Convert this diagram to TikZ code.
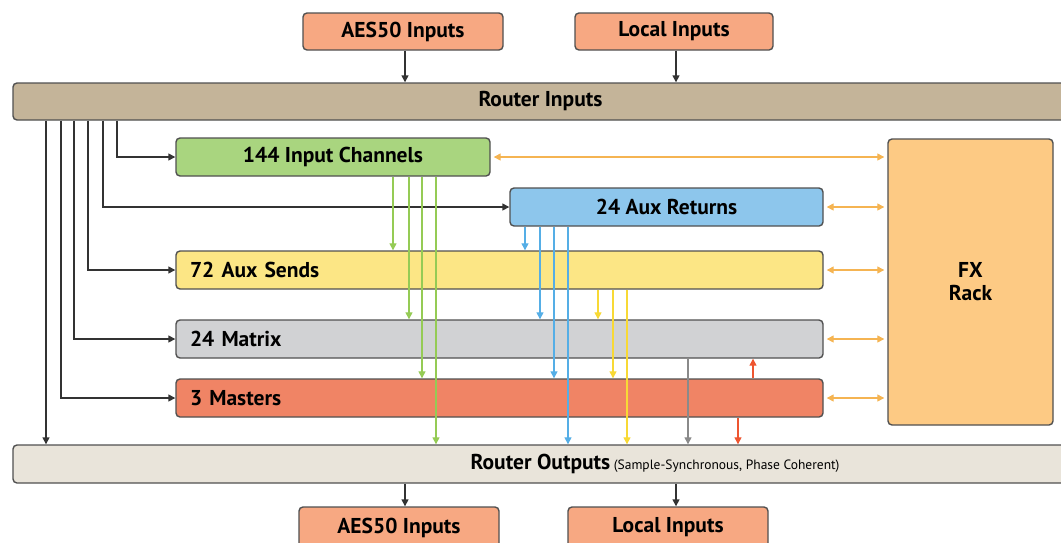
\documentclass[tikz,border=0pt]{standalone}
\usepackage{fontspec}
\setmainfont{PT Sans}
\usetikzlibrary{arrows.meta}
\definecolor{ioC}{HTML}{F7A882}
\definecolor{riC}{HTML}{C4B499}
\definecolor{roC}{HTML}{E9E4DA}
\definecolor{icC}{HTML}{A9D57F}
\definecolor{arC}{HTML}{8DC6EC}
\definecolor{asC}{HTML}{FCE685}
\definecolor{mxC}{HTML}{D1D2D4}
\definecolor{msC}{HTML}{F08465}
\definecolor{fxC}{HTML}{FDCA84}
\definecolor{bordC}{HTML}{505050}
\definecolor{oArr}{HTML}{F5B452}
\definecolor{gArr}{HTML}{95CB55}
\definecolor{bArr}{HTML}{55AEE6}
\definecolor{yArr}{HTML}{F8D935}
\definecolor{kArr}{HTML}{8A8A8A}
\definecolor{rArr}{HTML}{EE5530}
\begin{document}
\begin{tikzpicture}[x=1pt,y=-1pt,
  box/.style={draw=bordC, line width=1.4pt, rounded corners=4pt, inner sep=0pt,
    font=\fontsize{21.5}{24}\selectfont\bfseries, text=black},
  lbox/.style={box, align=left, inner xsep=14pt, text width=619pt},
  karr/.style={draw=black!80, line width=1.4pt, -{Triangle[length=7pt,width=7pt]}},
  carr/.style={line width=1.3pt, -{Triangle[length=7pt,width=7pt]}},
  oarrow/.style={draw=oArr, line width=1.3pt, {Triangle[length=7pt,width=7pt]}-{Triangle[length=7pt,width=7pt]}, shorten <=3pt, shorten >=3pt}]
\useasboundingbox (0,0) rectangle (1061,542);
\clip (0,0) rectangle (1061,542);

% boxes
\node[box, fill=ioC, minimum width=200pt, minimum height=37pt] (aesin) at (403,31.5) {AES50 Inputs};
\node[box, fill=ioC, minimum width=198pt, minimum height=37pt] (locin) at (674,31.5) {Local Inputs};
\node[box, fill=riC, minimum width=1055pt, minimum height=37pt] (ri) at (540.5,101.5) {Router Inputs};
\node[box, fill=icC, minimum width=314pt, minimum height=38pt] (ic) at (333,157) {144 Input Channels};
\node[box, fill=arC, minimum width=313pt, minimum height=38pt] (ar) at (666.5,207) {24 Aux Returns};
\node[lbox, fill=asC, minimum height=38pt] (as) at (499.5,270) {72 Aux Sends};
\node[lbox, fill=mxC, minimum height=38pt] (mx) at (499.5,339) {24 Matrix};
\node[lbox, fill=msC, minimum height=38pt] (ms) at (499.5,398) {3 Masters};
\node[box, fill=fxC, minimum width=165pt, minimum height=286pt, align=center] (fx) at (970.5,282) {FX\\[-1pt]Rack};
\node[box, fill=roC, minimum width=1055pt, minimum height=38pt] (ro) at (540.5,464)
  {Router Outputs\rlap{\fontsize{13.5}{15}\selectfont\mdseries\ (Sample-Synchronous, Phase Coherent)}};
\node[box, fill=ioC, minimum width=200pt, minimum height=41pt] (aesout) at (399,527.5) {AES50 Inputs};
\node[box, fill=ioC, minimum width=200pt, minimum height=41pt] (locout) at (668,527.5) {Local Inputs};

% column coordinates
\coordinate (L1) at (46,0);
\coordinate (L2) at (61,0);
\coordinate (L3) at (74,0);
\coordinate (L4) at (88,0);
\coordinate (L5) at (103,0);
\coordinate (L6) at (117,0);
\coordinate (T1) at (405,0);
\coordinate (T2) at (676,0);

% inputs to router
\draw[karr] (aesin.south -| T1) -- (ri.north -| T1);
\draw[karr] (locin.south -| T2) -- (ri.north -| T2);
% router outputs to bottom boxes
\draw[karr] (ro.south -| T1) -- (aesout.north -| T1);
\draw[karr] (ro.south -| T2) -- (locout.north -| T2);

% router inputs distribution
\draw[karr] (ri.south -| L6) |- (ic.west);
\draw[karr] (ri.south -| L5) |- (ar.west);
\draw[karr] (ri.south -| L4) |- (as.west);
\draw[karr] (ri.south -| L3) |- (mx.west);
\draw[karr] (ri.south -| L2) |- (ms.west);
\draw[karr] (ri.south -| L1) -- (ro.north -| L1);

% green (input channels)
\coordinate (G1) at (393,0);
\coordinate (G2) at (409,0);
\coordinate (G3) at (422,0);
\coordinate (G4) at (436,0);
\draw[carr, draw=gArr] (ic.south -| G1) -- (as.north -| G1);
\draw[carr, draw=gArr] (ic.south -| G2) -- (mx.north -| G2);
\draw[carr, draw=gArr] (ic.south -| G3) -- (ms.north -| G3);
\draw[carr, draw=gArr] (ic.south -| G4) -- (ro.north -| G4);

% blue (aux returns)
\coordinate (B1) at (525,0);
\coordinate (B2) at (540,0);
\coordinate (B3) at (554,0);
\coordinate (B4) at (568,0);
\draw[carr, draw=bArr] (ar.south -| B1) -- (as.north -| B1);
\draw[carr, draw=bArr] (ar.south -| B2) -- (mx.north -| B2);
\draw[carr, draw=bArr] (ar.south -| B3) -- (ms.north -| B3);
\draw[carr, draw=bArr] (ar.south -| B4) -- (ro.north -| B4);

% yellow (aux sends)
\coordinate (Y1) at (598,0);
\coordinate (Y2) at (613,0);
\coordinate (Y3) at (627,0);
\draw[carr, draw=yArr] (as.south -| Y1) -- (mx.north -| Y1);
\draw[carr, draw=yArr] (as.south -| Y2) -- (ms.north -| Y2);
\draw[carr, draw=yArr] (as.south -| Y3) -- (ro.north -| Y3);

% gray (matrix)
\coordinate (K1) at (688,0);
\draw[carr, draw=kArr] (mx.south -| K1) -- (ro.north -| K1);

% red (masters)
\coordinate (R1) at (753,0);
\coordinate (R2) at (738,0);
\draw[carr, draw=rArr] (ms.north -| R1) -- (mx.south -| R1);
\draw[carr, draw=rArr] (ms.south -| R2) -- (ro.north -| R2);

% FX rack links
\draw[oarrow] (ic.east) -- (ic.east -| fx.west);
\draw[oarrow] (ar.east) -- (ar.east -| fx.west);
\draw[oarrow] (as.east) -- (as.east -| fx.west);
\draw[oarrow] (mx.east) -- (mx.east -| fx.west);
\draw[oarrow] (ms.east) -- (ms.east -| fx.west);
\end{tikzpicture}
\end{document}
